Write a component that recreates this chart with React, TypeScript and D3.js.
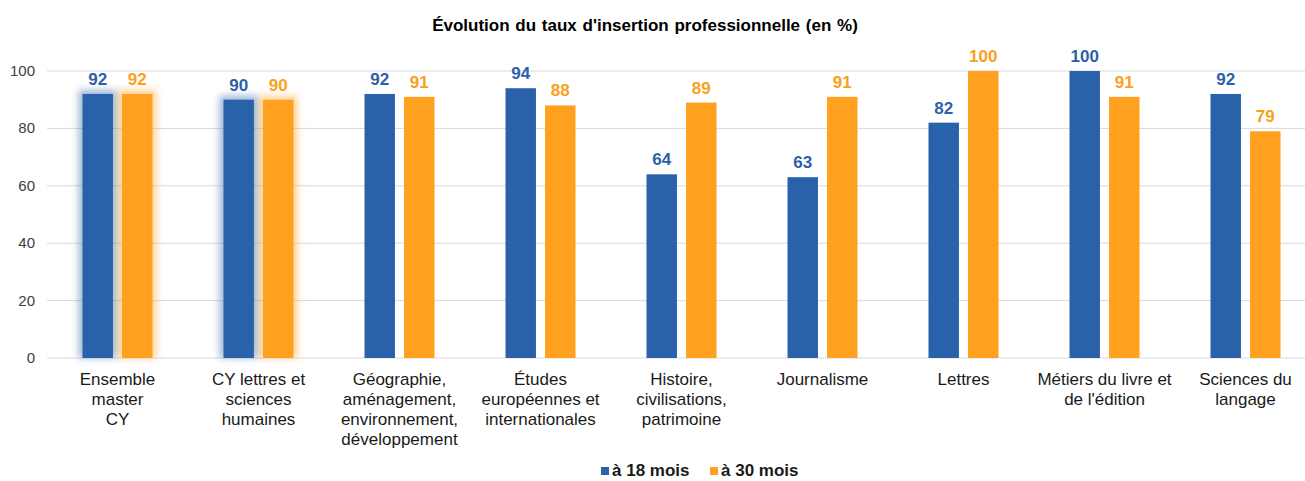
import React from "react";
import * as d3 from "d3";

const categories = [
  "Ensemble\nmaster\nCY",
  "CY lettres et\nsciences\nhumaines",
  "Géographie,\naménagement,\nenvironnement,\ndéveloppement",
  "Études\neuropéennes et\ninternationales",
  "Histoire,\ncivilisations,\npatrimoine",
  "Journalisme",
  "Lettres",
  "Métiers du livre et\nde l'édition",
  "Sciences du\nlangage",
];
const mois18 = [92, 90, 92, 94, 64, 63, 82, 100, 92];
const mois30 = [92, 90, 91, 88, 89, 91, 100, 91, 79];
const seriesNames = ["à 18 mois", "à 30 mois"];
const yTicks = [0, 20, 40, 60, 80, 100];
const highlighted = [0, 1];

const W = 1305;
const H = 481;
const FONT = "'Liberation Sans', Arial, sans-serif";
const COLORS = ["#2962aa", "#ffa01e"];
const LABEL_COLORS = ["#2e60a8", "#f9a020"];

export default function App() {
  const left = 47;
  const x0 = d3.scaleBand<number>().domain(d3.range(categories.length)).range([left, left + 141 * 9]);
  const x1 = d3.scaleBand<number>().domain([0, 1]).range([-35, 35]).paddingInner(0.23);
  const y = d3.scaleLinear().domain([0, 100]).range([358, 71]);
  const values = [mois18, mois30];

  return (
    <svg width={W} height={H} style={{ position: "absolute", left: 0, top: 0, background: "#fff" }} fontFamily={FONT}>
      <defs>
        <filter id="glow" x="-50%" y="-20%" width="200%" height="140%">
          <feGaussianBlur in="SourceGraphic" stdDeviation="3.5" />
        </filter>
      </defs>
      <text x={645} y={31} textAnchor="middle" fontSize={17} fontWeight="bold" wordSpacing={1} fill="#000">
        Évolution du taux d'insertion professionnelle (en %)
      </text>

      {yTicks.map((t) => (
        <g key={t}>
          <line x1={left} x2={W} y1={y(t)} y2={y(t)} stroke="#d9d9d9" strokeWidth={1} />
          <text x={35} y={y(t) + 5} textAnchor="end" fontSize={15} fill="#404040">
            {t}
          </text>
        </g>
      ))}

      {categories.map((c, i) => {
        const cx = x0(i)! + x0.bandwidth() / 2;
        return (
          <g key={i}>
            {values.map((vals, s) => {
              const bx = cx + x1(s)!;
              const bw = x1.bandwidth();
              const top = y(vals[i]);
              return (
                <g key={s}>
                  {highlighted.includes(i) && (
                    <rect
                      x={bx - 4}
                      y={top - 4}
                      width={bw + 8}
                      height={y(0) - top + 4}
                      fill={COLORS[s]}
                      opacity={0.45}
                      filter="url(#glow)"
                    />
                  )}
                  <rect x={bx} y={top} width={bw} height={y(0) - top} fill={COLORS[s]} />
                  <text
                    x={bx + bw / 2}
                    y={top - 9}
                    textAnchor="middle"
                    fontSize={17}
                    fontWeight="bold"
                    fill={LABEL_COLORS[s]}
                  >
                    {vals[i]}
                  </text>
                </g>
              );
            })}
            <text textAnchor="middle" fontSize={17} fill="#1a1a1a">
              {c.split("\n").map((line, k) => (
                <tspan key={k} x={cx} y={385 + k * 20}>
                  {line}
                </tspan>
              ))}
            </text>
          </g>
        );
      })}

      <g fontSize={17} fontWeight="bold" fill="#1a1a1a">
        <rect x={601} y={467} width={8} height={8} fill={COLORS[0]} />
        <text x={612} y={476}>{seriesNames[0]}</text>
        <rect x={710} y={467} width={8} height={8} fill={COLORS[1]} />
        <text x={721} y={476}>{seriesNames[1]}</text>
      </g>
    </svg>
  );
}
